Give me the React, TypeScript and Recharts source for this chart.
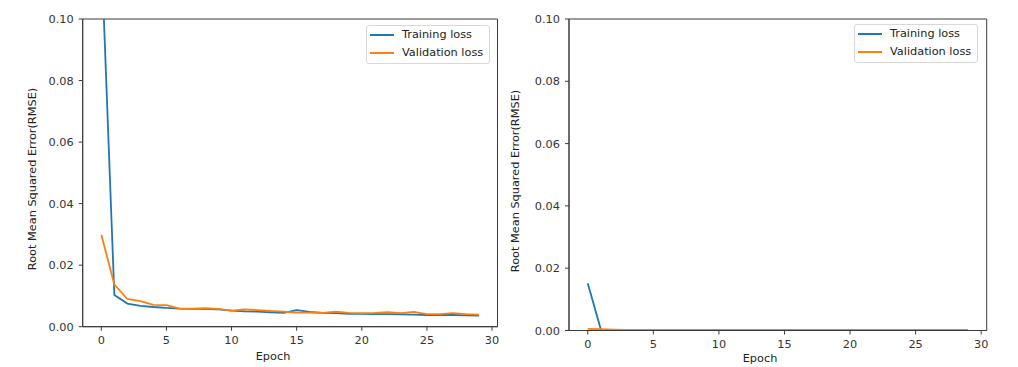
import React from 'react';
import { LineChart, Line, XAxis, YAxis, ReferenceArea } from 'recharts';

const epochs = [0, 1, 2, 3, 4, 5, 6, 7, 8, 9, 10, 11, 12, 13, 14, 15, 16, 17, 18, 19, 20, 21, 22, 23, 24, 25, 26, 27, 28, 29];

const trainLeft = [0.122, 0.0103, 0.0075, 0.0068, 0.0064, 0.0061, 0.0059, 0.0058, 0.0057, 0.0056, 0.0052, 0.0050, 0.0049, 0.0047, 0.0045, 0.0054, 0.0048, 0.0045, 0.0044, 0.0042, 0.0042, 0.0041, 0.0041, 0.0040, 0.0039, 0.0038, 0.0038, 0.0038, 0.0037, 0.0036];
const valLeft = [0.0299, 0.0137, 0.0090, 0.0083, 0.0071, 0.0070, 0.0059, 0.0059, 0.0060, 0.0058, 0.0052, 0.0056, 0.0054, 0.0051, 0.0049, 0.0046, 0.0046, 0.0045, 0.0049, 0.0045, 0.0044, 0.0045, 0.0047, 0.0044, 0.0048, 0.0041, 0.0041, 0.0044, 0.0041, 0.0039];

const trainRight = [0.0152, 0.0003, 0.0002, 0.0002, 0.0001, 0.0001, 0.0001, 0.0001, 0.0001, 0.0001, 0.0001, 0.0001, 0.0001, 0.0001, 0.0001, 0.0001, 0.0001, 0.0001, 0.0001, 0.0001, 0.0001, 0.0001, 0.0001, 0.0001, 0.0001, 0.0001, 0.0001, 0.0001, 0.0001, 0.0001];
const valRight = [0.0005, 0.0004, 0.0003, 0.0002, 0.0002, 0.0002, 0.0001, 0.0001, 0.0001, 0.0001, 0.0001, 0.0001, 0.0001, 0.0001, 0.0001, 0.0001, 0.0001, 0.0001, 0.0001, 0.0001, 0.0001, 0.0001, 0.0001, 0.0001, 0.0001, 0.0001, 0.0001, 0.0001, 0.0001, 0.0001];

const xTicks = [0, 5, 10, 15, 20, 25, 30];
const yTicks = [0, 0.02, 0.04, 0.06, 0.08, 0.1];
const seriesNames = ['Training loss', 'Validation loss'];
const xLabel = 'Epoch';
const yLabel = 'Root Mean Squared Error(RMSE)';

const BLUE = '#1f77b4';
const ORANGE = '#ff7f0e';
const FONT = '"DejaVu Sans", sans-serif';
const FS = 11.3;
const AXIS = '#3a3a3a';
const X_DOMAIN: [number, number] = [-1.43, 30.42];

const leftData = epochs.map((e, i) => ({ epoch: e, train: trainLeft[i], val: valLeft[i] }));
const rightData = epochs.map((e, i) => ({ epoch: e, train: trainRight[i], val: valRight[i] }));

const LegendBox = ({ top, left }: { top: number; left: number }) => (
  <div
    style={{
      position: 'absolute',
      top,
      left,
      border: '1px solid #d8d8d8',
      borderRadius: 3,
      background: 'rgba(255,255,255,0.8)',
      padding: '0px 6px 1px 3px',
      fontFamily: FONT,
      fontSize: FS,
      color: '#222',
      lineHeight: '18px',
    }}
  >
    {seriesNames.map((n, i) => (
      <div key={n} style={{ display: 'flex', alignItems: 'center', whiteSpace: 'nowrap' }}>
        <span
          style={{
            display: 'inline-block',
            width: 24,
            height: 2,
            background: i === 0 ? BLUE : ORANGE,
            marginRight: 8,
          }}
        />
        <span>{n}</span>
      </div>
    ))}
  </div>
);

type PanelProps = {
  data: { epoch: number; train: number; val: number }[];
  width: number;
  height: number;
  margin: { top: number; right: number; bottom: number; left: number };
};

const Panel = ({ data, width, height, margin }: PanelProps) => (
  <LineChart width={width} height={height} data={data} margin={margin}>
    <XAxis
      dataKey="epoch"
      type="number"
      domain={X_DOMAIN}
      ticks={xTicks}
      allowDataOverflow
      height={30}
      tickSize={4}
      tickMargin={5}
      stroke={AXIS}
      tick={{ fill: '#333', fontFamily: FONT, fontSize: FS }}
      tickFormatter={(v: number) => String(v)}
      interval={0}
    />
    <YAxis
      type="number"
      domain={[0, 0.1]}
      ticks={yTicks}
      allowDataOverflow
      width={60}
      tickSize={4}
      tickMargin={5}
      stroke={AXIS}
      tick={{ fill: '#333', fontFamily: FONT, fontSize: FS }}
      tickFormatter={(v: number) => v.toFixed(2)}
      interval={0}
    />
    <ReferenceArea
      x1={X_DOMAIN[0]}
      x2={X_DOMAIN[1]}
      y1={0}
      y2={0.1}
      fill="none"
      fillOpacity={0}
      stroke={AXIS}
      strokeWidth={1}
      ifOverflow="extendDomain"
    />
    <Line
      type="linear"
      dataKey="train"
      name={seriesNames[0]}
      stroke={BLUE}
      strokeWidth={1.8}
      dot={false}
      activeDot={false}
      isAnimationActive={false}
    />
    <Line
      type="linear"
      dataKey="val"
      name={seriesNames[1]}
      stroke={ORANGE}
      strokeWidth={1.8}
      dot={false}
      activeDot={false}
      isAnimationActive={false}
    />
  </LineChart>
);

export default function App() {
  return (
    <div
      style={{
        position: 'fixed',
        left: 0,
        top: 0,
        width: 1018,
        height: 367,
        background: '#fff',
        overflow: 'hidden',
      }}
    >
      <div style={{ position: 'absolute', left: 0, top: 0 }}>
        <Panel
          data={leftData}
          width={520}
          height={367}
          margin={{ top: 19, right: 22.5, bottom: 10.3, left: 22.7 }}
        />
      </div>
      <div style={{ position: 'absolute', left: 500, top: 0 }}>
        <Panel
          data={rightData}
          width={518}
          height={367}
          margin={{ top: 19, right: 31.3, bottom: 6.5, left: 9 }}
        />
      </div>
      <LegendBox top={25} left={366} />
      <LegendBox top={24} left={854} />
      <svg
        width={1018}
        height={367}
        style={{ position: 'absolute', left: 0, top: 0, pointerEvents: 'none' }}
      >
        <text
          x={0}
          y={0}
          transform="translate(36,179) rotate(-90)"
          textAnchor="middle"
          fontFamily={FONT}
          fontSize={FS}
          fill="#222"
        >
          {yLabel}
        </text>
        <text
          x={0}
          y={0}
          transform="translate(519,181) rotate(-90)"
          textAnchor="middle"
          fontFamily={FONT}
          fontSize={FS}
          fill="#222"
        >
          {yLabel}
        </text>
        <text x={273} y={360} textAnchor="middle" fontFamily={FONT} fontSize={FS} fill="#222">
          {xLabel}
        </text>
        <text x={760} y={362} textAnchor="middle" fontFamily={FONT} fontSize={FS} fill="#222">
          {xLabel}
        </text>
      </svg>
    </div>
  );
}
